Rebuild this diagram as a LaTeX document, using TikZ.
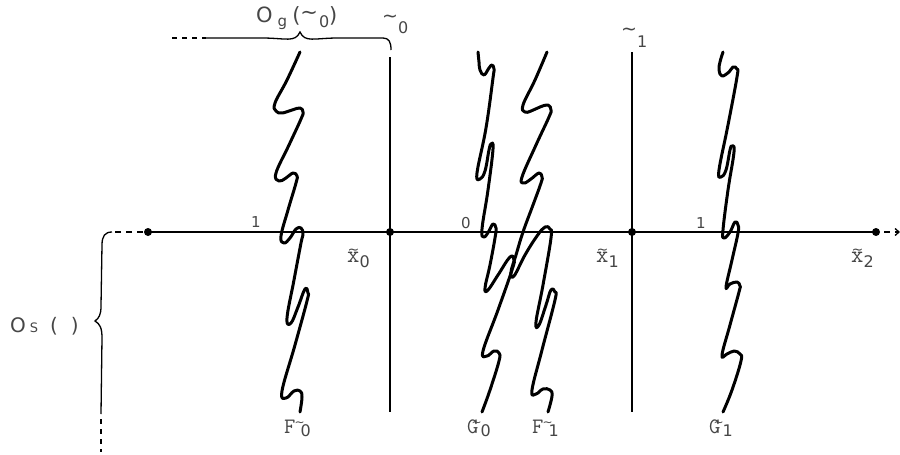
\documentclass[tikz,border=0pt]{standalone}
\usepackage{fontspec}
\newfontfamily\sansf{DejaVu Sans}
\usetikzlibrary{arrows.meta}
\definecolor{labgray}{RGB}{70,70,70}
\newcommand\fsz[1]{\fontsize{#1}{#1}\selectfont}
\newcommand\tildeon[1]{\ooalign{#1\cr\hidewidth\raisebox{7.5pt}{\sansf\fsz{14}\textasciitilde}\hidewidth\cr}}
\newcommand\smtilde{\raisebox{7pt}{\sansf\fsz{12}\textasciitilde}}
\begin{document}
\begin{tikzpicture}[x=1pt,y=-1pt,
  curve/.style={line width=3pt, line join=round, line cap=round},
  axisline/.style={line width=1.8pt},
  bracel/.style={line width=1.3pt},
  dotn/.style={circle, fill, inner sep=0pt, minimum size=8pt},
  lab/.style={text=labgray, inner sep=0pt, anchor=base west}]
\useasboundingbox (0,0) rectangle (900,455);

% dots and axis
\node[dotn] (d0) at (148,232) {};
\node[dotn] (d1) at (390,232) {};
\node[dotn] (d2) at (632,232) {};
\node[dotn] (d3) at (876,232) {};
\coordinate (aend) at (900,232);
\coordinate (lbr) at (112,232);
\draw[axisline] (d0.center) -- (d3.center);
\draw[bracel, dash pattern=on 6pt off 5pt, -{Straight Barb[length=4pt,width=7pt]}] (d3.center) ++(8,0) -- (aend);
\draw[bracel, dash pattern=on 6pt off 5pt] (d0.center) ++(-5,0) -- (lbr);

% vertical lines
\coordinate (v0t) at (390,57); \coordinate (v0b) at (390,412);
\coordinate (v1t) at (632,52); \coordinate (v1b) at (632,412);
\draw[axisline] (v0t) -- (v0b);
\draw[axisline] (v1t) -- (v1b);

% top brace
\coordinate (tb0) at (172,38); \coordinate (tb1) at (206,38);
\draw[bracel, dash pattern=on 5pt off 5pt] (tb0) -- (tb1);
\draw[bracel] (tb1) -- (262,38) .. controls (286,38) and (295,43) .. (300,32)
  .. controls (305,43) and (314,38) .. (338,38) -- (383,38)
  .. controls (389,38) and (391,42) .. (391,50);

% left brace
\draw[bracel] (lbr) .. controls (105,232) and (102,236) .. (102,245) -- (101,306)
  .. controls (101,315) and (99,318) .. (95,321)
  .. controls (100,324) and (102,328) .. (102,338) -- (101,414);
\draw[bracel, dash pattern=on 5pt off 5pt] (101,419) -- (101,452);

% curves
\draw[curve] plot[smooth, tension=0.7] coordinates {
 (300,52) (287,80) (275,103) (276,111) (282,113) (292,110) (300,108) (303,112)
 (301,119) (289,145) (276,173) (279,181) (286,178) (293,173) (297,176) (296,183)
 (288,210) (281,236) (284,243) (290,238) (296,229) (301,228) (303,234) (301,243)
 (294,280) (287,318) (291,323) (298,307) (305,289) (308,293) (307,301)
 (295,345) (282,391) (286,398) (294,391) (300,391) (302,397) (300,412)};
\draw[curve] plot[smooth, tension=0.7] coordinates {
 (478,52) (479,62) (480,70) (484,75) (489,68) (492,65) (494,69) (493,78)
 (486,128) (477,173) (480,179) (485,171) (489,150) (491,144) (493,149) (488,190)
 (482,229) (484,237) (489,231) (493,224) (496,228) (495,238) (490,265) (485,288)
 (488,290) (498,275) (510,257) (514,260) (512,270) (498,310) (483,351) (487,356)
 (494,351) (499,353) (499,361) (490,390) (482,412)};
\draw[curve] plot[smooth, tension=0.7] coordinates {
 (547,52) (535,80) (523,105) (525,112) (531,111) (540,107) (548,105) (551,110)
 (549,117) (536,145) (522,177) (524,183) (531,179) (539,173) (542,177) (541,183)
 (533,205) (523,232) (516,255) (511,272) (514,276) (525,255) (537,236) (545,227)
 (550,229) (551,238) (543,285) (536,322) (539,325) (546,305) (551,290) (555,292)
 (555,300) (542,350) (532,390) (536,394) (543,389) (550,390) (552,396) (548,412)};
\draw[curve] plot[smooth, tension=0.7] coordinates {
 (723,52) (720,62) (719,70) (722,76) (729,72) (733,67) (737,69) (737,77)
 (728,125) (719,170) (721,177) (726,170) (730,150) (732,146) (734,152) (728,190)
 (723,230) (724,238) (730,232) (735,222) (738,225) (738,233) (732,260) (726,287)
 (730,284) (737,282) (740,286) (739,292) (730,325) (722,355) (727,354) (734,351)
 (740,354) (741,361) (732,390) (723,412)};

% labels
\node[lab] (oglab) at (256,23) {\sansf\fsz{21}O\hspace{5pt}\raisebox{-4pt}{\fsz{15}g}\hspace{5pt}(\raisebox{3pt}{\textasciitilde}\hspace{1pt}\raisebox{-5pt}{\fsz{16}0})};
\node[lab] (g0lab) at (382,23) {\sansf\fsz{19}\textasciitilde\raisebox{-10pt}{\fsz{16}0}};
\node[lab] (g1lab) at (621,35) {\sansf\fsz{19}\textasciitilde\raisebox{-12pt}{\fsz{16}1}};
\node[lab] (oslab) at (10,332) {\sansf\fsz{20}O\hspace{4pt}{\fsz{13}S}\hspace{12pt}(\hspace{13pt})};
\node[lab] (a1lab) at (251,227) {\sansf\fsz{15}1};
\node[lab] (a0lab) at (461,228) {\sansf\fsz{15}0};
\node[lab] (a2lab) at (696,228) {\sansf\fsz{15}1};
\node[lab] (x0lab) at (347,262) {\ttfamily\fsz{24}\tildeon{x}\raisebox{-5pt}{\sansf\fsz{16}0}};
\node[lab] (x1lab) at (596,262) {\ttfamily\fsz{24}\tildeon{x}\raisebox{-5pt}{\sansf\fsz{16}1}};
\node[lab] (x2lab) at (851,262) {\ttfamily\fsz{24}\tildeon{x}\raisebox{-5pt}{\sansf\fsz{16}2}};
\node[lab] (f0lab) at (284,433) {\ttfamily\fsz{22}F\kern-1pt\smtilde\kern-4pt\raisebox{-3pt}{\sansf\fsz{16}0}};
\node[lab] (g0blab) at (467,433) {\ttfamily\fsz{22}G\kern-7pt\smtilde\kern-1pt\raisebox{-3pt}{\sansf\fsz{16}0}};
\node[lab] (f1lab) at (532,433) {\ttfamily\fsz{22}F\kern-1pt\smtilde\kern-4pt\raisebox{-3pt}{\sansf\fsz{16}1}};
\node[lab] (g1blab) at (709,433) {\ttfamily\fsz{22}G\kern-7pt\smtilde\kern-1pt\raisebox{-3pt}{\sansf\fsz{16}1}};
\end{tikzpicture}
\end{document}
